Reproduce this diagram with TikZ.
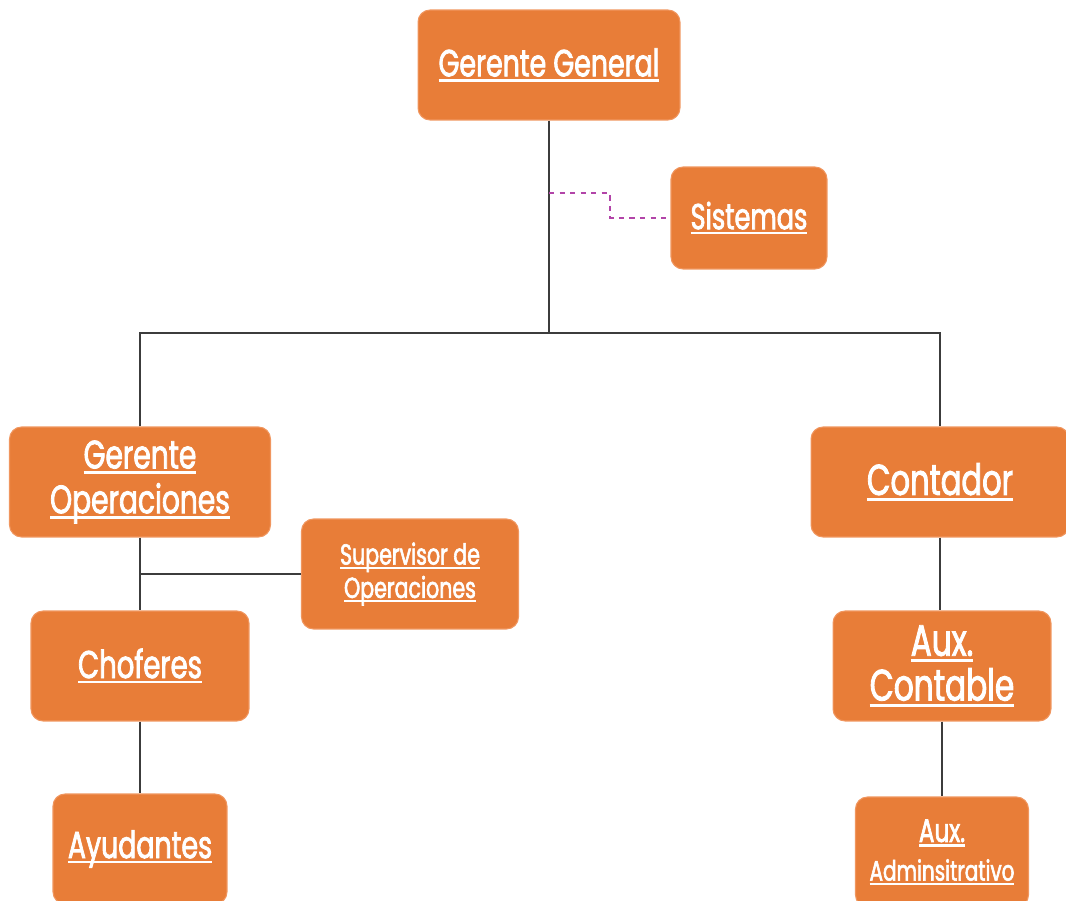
\documentclass[tikz,border=0pt]{standalone}
\usepackage{fontspec}
\newfontfamily\orgfont{Poppins}[FakeStretch=0.71, FakeBold=2]
\usetikzlibrary{%
    calc,
    positioning
}

\definecolor{boxorange}{RGB}{232,125,56}
\definecolor{boxedge}{RGB}{240,150,95}
\definecolor{linkgray}{RGB}{60,60,60}
\definecolor{linkmagenta}{RGB}{178,68,168}

% underline that crosses descenders, like the chart
\newcommand{\boxul}[1]{%
    \setbox0\hbox{#1}%
    \rlap{\rule[-0.14em]{\wd0}{0.07em}}\box0}

\tikzset{
    orgbox/.style={
        rectangle, rounded corners=0.24cm,
        fill=boxorange, draw=boxedge, line width=0.6pt,
        text=white, align=center, inner sep=0pt
    },
    conn/.style={draw=linkgray, line width=0.7pt},
    dashlink/.style={draw=linkmagenta, line width=0.9pt, dashed}
}

\begin{document}
\begin{tikzpicture}[x=0.02cm, y=-0.02cm]
    \useasboundingbox (0,0) rectangle (1066,901);

    % boxes
    \node (gg)   [orgbox, minimum width=5.24cm, minimum height=2.2cm,
                  font=\orgfont\fontsize{21.5}{22}\selectfont]
                 at (549,65)  {\boxul{Gerente General}};
    \node (sis)  [orgbox, minimum width=3.12cm, minimum height=2.04cm,
                  font=\orgfont\fontsize{20.5}{24}\selectfont]
                 at (749,218) {\boxul{Sistemas}};
    \node (go)   [orgbox, minimum width=5.22cm, minimum height=2.2cm,
                  font=\orgfont\fontsize{22.5}{25.5}\selectfont]
                 at (140,482) {\boxul{Gerente}\\\boxul{Operaciones}};
    \node (cont) [orgbox, minimum width=5.16cm, minimum height=2.2cm,
                  font=\orgfont\fontsize{24.5}{26}\selectfont]
                 at (940,482) {\boxul{Contador}};
    \node (sup)  [orgbox, minimum width=4.34cm, minimum height=2.2cm,
                  font=\orgfont\fontsize{16.5}{19}\selectfont]
                 at (410,574) {\boxul{Supervisor de}\\\boxul{Operaciones}};
    \node (chof) [orgbox, minimum width=4.36cm, minimum height=2.2cm,
                  font=\orgfont\fontsize{22}{24}\selectfont]
                 at (140,666) {\boxul{Choferes}};
    \node (auxc) [orgbox, minimum width=4.36cm, minimum height=2.2cm,
                  font=\orgfont\fontsize{25}{25.5}\selectfont]
                 at (942,666) {\boxul{Aux.}\\\boxul{Contable}};
    \node (ayu)  [orgbox, minimum width=3.48cm, minimum height=2.2cm,
                  font=\orgfont\fontsize{21.5}{24}\selectfont]
                 at (140,849) {\boxul{Ayudantes}};
    \node (auxa) [orgbox, minimum width=3.46cm, minimum height=2.2cm,
                  font=\orgfont\fontsize{18.5}{22}\selectfont]
                 at (942,852) {\boxul{Aux.}\\{\fontsize{16}{18}\selectfont\boxul{Adminsitrativo}}};

    % junctions
    \coordinate (bus)    at (549,333);
    \coordinate (sysjn)  at (549,193);
    \coordinate (sysbnd) at (610,205);

    % connectors
    \draw[conn] (gg.south) -- (bus);
    \draw[conn] (go.north) |- (bus) -| (cont.north);
    \draw[dashlink] (sysjn) -| (sysbnd) |- (sis.west);
    \draw[conn] (go.south) -- (chof.north);
    \draw[conn] (go.south |- sup.west) -- (sup.west);
    \draw[conn] (chof.south) -- (ayu.north);
    \draw[conn] (cont.south) -- (cont.south |- auxc.north);
    \draw[conn] (auxc.south) -- (auxa.north);
\end{tikzpicture}
\end{document}
